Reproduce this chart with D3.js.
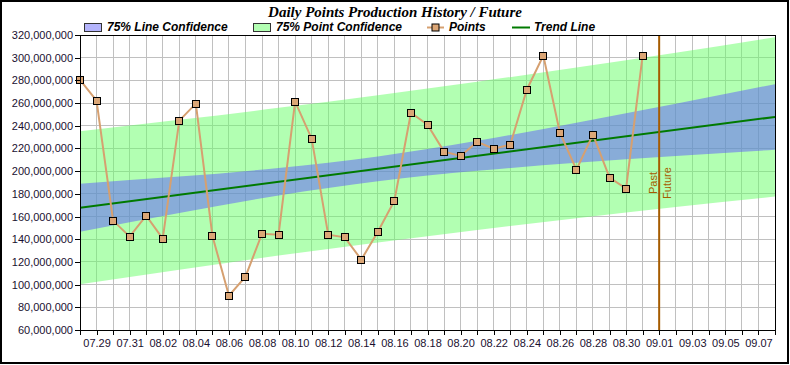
<!DOCTYPE html>
<html><head><meta charset="utf-8">
<script src="https://cdn.jsdelivr.net/npm/d3@7"></script>
<style>body{margin:0;background:#fff;} svg{display:block;}</style>
</head><body>
<script>
// ---- data (values in millions) ----
const pointDates = ["07.28","07.29","07.30","07.31","08.01","08.02","08.03","08.04","08.05","08.06",
  "08.07","08.08","08.09","08.10","08.11","08.12","08.13","08.14","08.15","08.16","08.17","08.18",
  "08.19","08.20","08.21","08.22","08.23","08.24","08.25","08.26","08.27","08.28","08.29","08.30","08.31"];
const pointValues = [280.4,262.1,156.4,142.3,160.8,140.5,244.5,259.5,143.1,90.2,
  107.0,144.9,144.0,261.2,228.6,144.0,141.7,122.0,146.6,174.0,251.5,241.0,
  217.2,213.4,225.8,219.8,223.3,271.8,301.8,233.9,201.3,232.2,194.3,184.6,301.8];
const trendDates = ["07.28","09.08"];
const trendValues = [167.8,247.8];
const bandDates = ["07.28","08.03","08.09","08.15","08.21","08.27","09.02","09.08"];
const lineBandUpper = [189.0,195.2,202.8,213.0,226.7,242.6,259.4,276.7];
const lineBandLower = [146.6,163.2,178.6,191.2,200.3,207.4,213.4,218.9];
const pointBandUpper = [235.2,245.2,255.8,267.0,278.8,291.4,304.4,318.0];
const pointBandLower = [100.4,113.2,125.6,137.2,148.2,158.6,168.4,177.6];
const yTicks = [60,80,100,120,140,160,180,200,220,240,260,280,300,320];
const xTickLabels = ["07.29","07.31","08.02","08.04","08.06","08.08","08.10","08.12","08.14","08.16",
  "08.18","08.20","08.22","08.24","08.26","08.28","08.30","09.01","09.03","09.05","09.07"];
const xDomain = ["07.28","09.08"];
const markerDate = "09.01";
const titleText = "Daily Points Production History / Future";
const legendLabels = ["75% Line Confidence","75% Point Confidence","Points","Trend Line"];

// ---- setup ----
const W = 790, H = 365;
const M = {left:80, right:775, top:35, bottom:330};
const parse = s => { const [m,d] = s.split(".").map(Number); return new Date(Date.UTC(2010, m-1, d)); };
const fmt = d3.utcFormat("%m.%d");
const x = d3.scaleUtc().domain(xDomain.map(parse)).range([M.left, M.right]);
const y = d3.scaleLinear().domain([60,320]).range([M.bottom, M.top]);
const FONT = "'Liberation Sans', Arial, sans-serif";

const svg = d3.select("body").append("svg").attr("width", W).attr("height", H);
svg.append("rect").attr("width", W).attr("height", H).attr("fill", "#fff");
svg.append("rect").attr("x",1).attr("y",1).attr("width",787).attr("height",362)
  .attr("fill","none").attr("stroke","#000").attr("stroke-width",2);

// grid
const days = d3.utcDay.range(parse(xDomain[0]), d3.utcDay.offset(parse(xDomain[1]),1));
const grid = svg.append("g").attr("shape-rendering","crispEdges").attr("stroke","#c0c0c0").attr("stroke-width",1);
grid.selectAll("line.v").data(days).join("line").attr("class","v")
  .attr("x1", d => x(d)).attr("x2", d => x(d)).attr("y1", M.top).attr("y2", M.bottom);
grid.selectAll("line.h").data(yTicks).join("line").attr("class","h")
  .attr("x1", M.left).attr("x2", M.right).attr("y1", d => y(d)).attr("y2", d => y(d));

// bands
const bandData = bandDates.map((d,i) => ({d: parse(d), lu: lineBandUpper[i], ll: lineBandLower[i], pu: pointBandUpper[i], pl: pointBandLower[i]}));
svg.append("clipPath").attr("id","plotclip").append("rect")
  .attr("x", M.left).attr("y", M.top).attr("width", M.right-M.left).attr("height", M.bottom-M.top);
const plot = svg.append("g").attr("clip-path","url(#plotclip)");
plot.append("path").datum(bandData)
  .attr("d", d3.area().curve(d3.curveNatural).x(d => x(d.d)).y0(d => y(d.pl)).y1(d => y(d.pu)))
  .attr("fill","rgb(102,255,102)").attr("fill-opacity",0.5);
plot.append("path").datum(bandData)
  .attr("d", d3.area().curve(d3.curveNatural).x(d => x(d.d)).y0(d => y(d.ll)).y1(d => y(d.lu)))
  .attr("fill","rgb(94,90,254)").attr("fill-opacity",0.5);

// trend
plot.append("path").datum(trendDates.map((d,i) => ({d: parse(d), v: trendValues[i]})))
  .attr("d", d3.line().x(d => x(d.d)).y(d => y(d.v)))
  .attr("fill","none").attr("stroke","#007a00").attr("stroke-width",2);

// points
const pts = pointDates.map((d,i) => ({d: parse(d), v: pointValues[i]}));
const ptColor = "#d6a070";
svg.append("path").datum(pts)
  .attr("d", d3.line().x(d => x(d.d)).y(d => y(d.v)))
  .attr("fill","none").attr("stroke", ptColor).attr("stroke-width",2);
svg.selectAll("rect.pt").data(pts).join("rect").attr("class","pt")
  .attr("x", d => Math.round(x(d.d)) - 3.5).attr("y", d => Math.round(y(d.v)) - 3.5)
  .attr("width",7).attr("height",7).attr("fill","#dba676").attr("stroke","#000").attr("stroke-width",1);

// past / future marker
const mx = x(parse(markerDate));
const mColor = "#a65c00";
svg.append("line").attr("x1", mx).attr("x2", mx).attr("y1", M.top).attr("y2", M.bottom)
  .attr("stroke", mColor).attr("stroke-width",2);
svg.append("text").attr("transform", `translate(${mx-2},183) rotate(-90)`)
  .attr("text-anchor","middle").attr("font-family",FONT).attr("font-size",11).attr("fill",mColor).text("Past");
svg.append("text").attr("transform", `translate(${mx+12},183) rotate(-90)`)
  .attr("text-anchor","middle").attr("font-family",FONT).attr("font-size",11).attr("fill",mColor).text("Future");

// axes
const yAxis = svg.append("g").attr("transform", `translate(${M.left},0)`)
  .call(d3.axisLeft(y).tickValues(yTicks).tickFormat(v => d3.format(",")(v*1e6)).tickSize(5).tickSizeOuter(0).tickPadding(2));
const xAxis = svg.append("g").attr("transform", `translate(0,${M.bottom})`)
  .call(d3.axisBottom(x).tickValues(days).tickFormat(d => xTickLabels.includes(fmt(d)) ? fmt(d) : "").tickSize(5).tickSizeOuter(0).tickPadding(4));
[yAxis, xAxis].forEach(a => {
  a.selectAll("text").attr("font-family",FONT).attr("font-size",11).attr("fill","#1a1030");
  a.selectAll("line").attr("stroke","#000").attr("shape-rendering","crispEdges");
  a.select(".domain").attr("stroke","#000").attr("shape-rendering","crispEdges");
});
// plot frame (top & right)
svg.append("path").attr("d", `M${M.left},${M.top}H${M.right}V${M.bottom}`)
  .attr("fill","none").attr("stroke","#000").attr("shape-rendering","crispEdges");

// title (fit to the reference's width)
const title = svg.append("text").attr("x",395).attr("y",16.5).attr("text-anchor","middle")
  .attr("font-family","'Liberation Serif','Times New Roman',serif").attr("font-weight","bold").attr("font-style","italic")
  .attr("font-size",15).attr("fill","#000").text(titleText);
const tw = title.node().getComputedTextLength();
if (tw > 0) title.attr("font-size", Math.max(12, Math.min(15, 15 * 254 / tw)));

// legend
const lg = svg.append("g").attr("font-family",FONT).attr("font-size",12).attr("font-weight","bold").attr("font-style","italic");
lg.append("rect").attr("x",84.5).attr("y",23.5).attr("width",17).attr("height",8).attr("fill","#b4b4fc").attr("stroke","#333");
lg.append("text").attr("x",107).attr("y",31.3).text(legendLabels[0]);
lg.append("rect").attr("x",253.5).attr("y",23.5).attr("width",17).attr("height",8).attr("fill","#b3ffb3").attr("stroke","#333");
lg.append("text").attr("x",276).attr("y",31.3).text(legendLabels[1]);
lg.append("line").attr("x1",427).attr("x2",444).attr("y1",27.5).attr("y2",27.5).attr("stroke",ptColor).attr("stroke-width",2);
lg.append("rect").attr("x",432).attr("y",24).attr("width",7).attr("height",7).attr("fill","#dba676").attr("stroke","#000");
lg.append("text").attr("x",449).attr("y",31.3).text(legendLabels[2]);
lg.append("line").attr("x1",512).attr("x2",530).attr("y1",27.5).attr("y2",27.5).attr("stroke","#007a00").attr("stroke-width",2);
lg.append("text").attr("x",534).attr("y",31.3).text(legendLabels[3]);
</script>
</body></html>
